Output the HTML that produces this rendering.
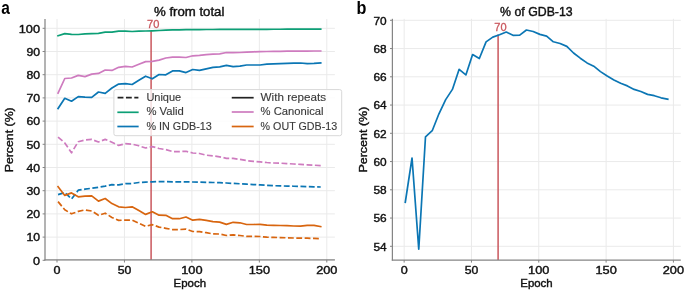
<!DOCTYPE html>
<html><head><meta charset="utf-8"><style>
html,body{margin:0;padding:0;background:#fff;}
body{width:685px;height:292px;overflow:hidden;}
svg{display:block;font-family:"Liberation Sans", sans-serif;will-change:transform;}
</style></head><body>
<svg width="685" height="292" viewBox="0 0 685 292">
<rect x="0" y="0" width="685" height="292" fill="#fff"/>
<line x1="57" y1="19" x2="57" y2="259.9" stroke="#eaeaea" stroke-width="1"/>
<line x1="124.45" y1="19" x2="124.45" y2="259.9" stroke="#eaeaea" stroke-width="1"/>
<line x1="191.9" y1="19" x2="191.9" y2="259.9" stroke="#eaeaea" stroke-width="1"/>
<line x1="259.35" y1="19" x2="259.35" y2="259.9" stroke="#eaeaea" stroke-width="1"/>
<line x1="326.8" y1="19" x2="326.8" y2="259.9" stroke="#eaeaea" stroke-width="1"/>
<line x1="45" y1="260.3" x2="334.9" y2="260.3" stroke="#eaeaea" stroke-width="1"/>
<line x1="45" y1="237.1" x2="334.9" y2="237.1" stroke="#eaeaea" stroke-width="1"/>
<line x1="45" y1="213.9" x2="334.9" y2="213.9" stroke="#eaeaea" stroke-width="1"/>
<line x1="45" y1="190.7" x2="334.9" y2="190.7" stroke="#eaeaea" stroke-width="1"/>
<line x1="45" y1="167.5" x2="334.9" y2="167.5" stroke="#eaeaea" stroke-width="1"/>
<line x1="45" y1="144.3" x2="334.9" y2="144.3" stroke="#eaeaea" stroke-width="1"/>
<line x1="45" y1="121.1" x2="334.9" y2="121.1" stroke="#eaeaea" stroke-width="1"/>
<line x1="45" y1="97.9" x2="334.9" y2="97.9" stroke="#eaeaea" stroke-width="1"/>
<line x1="45" y1="74.7" x2="334.9" y2="74.7" stroke="#eaeaea" stroke-width="1"/>
<line x1="45" y1="51.5" x2="334.9" y2="51.5" stroke="#eaeaea" stroke-width="1"/>
<line x1="45" y1="28.3" x2="334.9" y2="28.3" stroke="#eaeaea" stroke-width="1"/>
<line x1="151.1" y1="31" x2="151.1" y2="259.9" stroke="#c9575d" stroke-width="1.5"/>
<path d="M58.05 137.2 L64.78 142.9 L71.52 152.8 L78.25 141.7 L84.99 140 L91.72 139.4 L98.46 142 L105.19 139.4 L111.93 142.2 L118.66 145.4 L125.4 143.7 L132.13 144.1 L138.87 145.8 L145.61 148 L152.34 146.6 L159.07 148.5 L165.81 149.6 L172.55 151.6 L179.28 151.6 L186.01 151.3 L192.75 153 L199.49 153.5 L206.22 155.2 L212.95 155.9 L219.69 156.8 L226.43 158.4 L233.16 158.4 L239.89 159.4 L246.63 160.6 L253.37 161.4 L260.1 161.8 L266.83 162.5 L273.57 163 L280.31 163.2 L287.04 163.6 L293.78 164 L300.51 164.4 L307.25 164.8 L313.98 165.2 L320.72 165.6" fill="none" stroke="#ce7bbf" stroke-width="1.7" stroke-linejoin="round" stroke-linecap="butt" stroke-dasharray="5.83 2.52"/>
<path d="M58.05 194.6 L64.78 192.5 L71.52 199 L78.25 190.2 L84.99 189.2 L91.72 188.2 L98.46 187.3 L105.19 186.1 L111.93 184.7 L118.66 184.9 L125.4 183.7 L132.13 183.5 L138.87 182.5 L145.61 182.1 L152.34 181.8 L159.07 181.6 L165.81 181.7 L172.55 181.8 L179.28 181.8 L186.01 181.9 L192.75 182 L199.49 182.1 L206.22 182.3 L212.95 182.5 L219.69 182.6 L226.43 183 L233.16 183.39 L239.89 183.77 L246.63 184.16 L253.37 184.54 L260.1 184.93 L266.83 185.31 L273.57 185.7 L280.31 185.9 L287.04 186.08 L293.78 186.27 L300.51 186.45 L307.25 186.63 L313.98 186.82 L320.72 187" fill="none" stroke="#0b76b4" stroke-width="1.7" stroke-linejoin="round" stroke-linecap="butt" stroke-dasharray="5.83 2.52"/>
<path d="M58.05 201.6 L64.78 209.8 L71.52 213.8 L78.25 211.4 L84.99 209.9 L91.72 211 L98.46 215.3 L105.19 213.2 L111.93 217.5 L118.66 220.4 L125.4 220.1 L132.13 220.1 L138.87 223.2 L145.61 226.3 L152.34 224.7 L159.07 227.1 L165.81 228.3 L172.55 229.6 L179.28 229.6 L186.01 229.1 L192.75 231.5 L199.49 231.6 L206.22 232.7 L212.95 233.9 L219.69 234 L226.43 235.5 L233.16 234.8 L239.89 235.5 L246.63 236.4 L253.37 236.4 L260.1 236.5 L266.83 237.2 L273.57 237.4 L280.31 237.6 L287.04 237.8 L293.78 238 L300.51 238.1 L307.25 238.2 L313.98 238.4 L320.72 238.6" fill="none" stroke="#d8650f" stroke-width="1.7" stroke-linejoin="round" stroke-linecap="butt" stroke-dasharray="5.83 2.52"/>
<path d="M58.05 186.7 L64.78 195.4 L71.52 192.9 L78.25 196.8 L84.99 196.1 L91.72 195.9 L98.46 201.1 L105.19 198.5 L111.93 203.6 L118.66 206.8 L125.4 207.5 L132.13 206.8 L138.87 210.6 L145.61 214.4 L152.34 211.8 L159.07 215.2 L165.81 215.3 L172.55 218.7 L179.28 218.7 L186.01 217 L192.75 220.2 L199.49 219.4 L206.22 220.4 L212.95 221.6 L219.69 222.1 L226.43 224.4 L233.16 222.3 L239.89 222.8 L246.63 224.5 L253.37 224.5 L260.1 224.4 L266.83 225.2 L273.57 225.4 L280.31 225.5 L287.04 225.7 L293.78 226 L300.51 226.1 L307.25 225.4 L313.98 225.4 L320.72 226.6" fill="none" stroke="#d8650f" stroke-width="1.7" stroke-linejoin="round" stroke-linecap="square"/>
<path d="M58.05 108.5 L64.78 98.3 L71.52 101.2 L78.25 96.6 L84.99 97.2 L91.72 97.3 L98.46 92 L105.19 93.3 L111.93 88 L118.66 84.1 L125.4 83.6 L132.13 84.5 L138.87 80.2 L145.61 76.2 L152.34 78.8 L159.07 74.5 L165.81 74.8 L172.55 70.9 L179.28 70.9 L186.01 72.6 L192.75 69.5 L199.49 70.4 L206.22 68.8 L212.95 67.4 L219.69 66.9 L226.43 65.4 L233.16 66.7 L239.89 66.2 L246.63 65 L253.37 65 L260.1 65 L266.83 64.2 L273.57 63.9 L280.31 63.6 L287.04 63.4 L293.78 63.2 L300.51 63 L307.25 63.6 L313.98 63.4 L320.72 62.9" fill="none" stroke="#0b76b4" stroke-width="1.7" stroke-linejoin="round" stroke-linecap="square"/>
<path d="M58.05 93.1 L64.78 78.5 L71.52 78 L78.25 75.4 L84.99 76.6 L91.72 74.1 L98.46 73.4 L105.19 70 L111.93 70.4 L118.66 67.3 L125.4 66.4 L132.13 67 L138.87 64.2 L145.61 61.6 L152.34 61.3 L159.07 60.1 L165.81 58 L172.55 57.2 L179.28 57.2 L186.01 57.5 L192.75 55.8 L199.49 55.4 L206.22 54.6 L212.95 54.1 L219.69 53.9 L226.43 52.5 L233.16 52.7 L239.89 52.5 L246.63 52.2 L253.37 51.8 L260.1 51.6 L266.83 51.5 L273.57 51.3 L280.31 51.3 L287.04 51.2 L293.78 51.2 L300.51 51.1 L307.25 51.1 L313.98 51 L320.72 51" fill="none" stroke="#ce7bbf" stroke-width="1.7" stroke-linejoin="round" stroke-linecap="square"/>
<path d="M58.05 35.8 L64.78 33.6 L71.52 34.3 L78.25 34.5 L84.99 33.9 L91.72 33.6 L98.46 33.3 L105.19 32.2 L111.93 32.2 L118.66 31.2 L125.4 31.2 L132.13 31.5 L138.87 31.2 L145.61 31 L152.34 30.8 L159.07 30.5 L165.81 30.1 L172.55 29.9 L179.28 29.8 L186.01 29.7 L192.75 29.6 L199.49 29.6 L206.22 29.5 L212.95 29.48 L219.69 29.45 L226.43 29.43 L233.16 29.41 L239.89 29.38 L246.63 29.36 L253.37 29.34 L260.1 29.31 L266.83 29.29 L273.57 29.26 L280.31 29.24 L287.04 29.22 L293.78 29.19 L300.51 29.17 L307.25 29.15 L313.98 29.12 L320.72 29.1" fill="none" stroke="#0c9f76" stroke-width="1.7" stroke-linejoin="round" stroke-linecap="square"/>
<line x1="45" y1="19" x2="45" y2="260.5" stroke="#858585" stroke-width="1.25"/>
<line x1="44.4" y1="259.9" x2="334.9" y2="259.9" stroke="#858585" stroke-width="1.25"/>
<line x1="57" y1="259.9" x2="57" y2="262.5" stroke="#858585" stroke-width="1"/>
<line x1="124.45" y1="259.9" x2="124.45" y2="262.5" stroke="#858585" stroke-width="1"/>
<line x1="191.9" y1="259.9" x2="191.9" y2="262.5" stroke="#858585" stroke-width="1"/>
<line x1="259.35" y1="259.9" x2="259.35" y2="262.5" stroke="#858585" stroke-width="1"/>
<line x1="326.8" y1="259.9" x2="326.8" y2="262.5" stroke="#858585" stroke-width="1"/>
<line x1="42.6" y1="260.3" x2="45" y2="260.3" stroke="#858585" stroke-width="1"/>
<line x1="42.6" y1="237.1" x2="45" y2="237.1" stroke="#858585" stroke-width="1"/>
<line x1="42.6" y1="213.9" x2="45" y2="213.9" stroke="#858585" stroke-width="1"/>
<line x1="42.6" y1="190.7" x2="45" y2="190.7" stroke="#858585" stroke-width="1"/>
<line x1="42.6" y1="167.5" x2="45" y2="167.5" stroke="#858585" stroke-width="1"/>
<line x1="42.6" y1="144.3" x2="45" y2="144.3" stroke="#858585" stroke-width="1"/>
<line x1="42.6" y1="121.1" x2="45" y2="121.1" stroke="#858585" stroke-width="1"/>
<line x1="42.6" y1="97.9" x2="45" y2="97.9" stroke="#858585" stroke-width="1"/>
<line x1="42.6" y1="74.7" x2="45" y2="74.7" stroke="#858585" stroke-width="1"/>
<line x1="42.6" y1="51.5" x2="45" y2="51.5" stroke="#858585" stroke-width="1"/>
<line x1="42.6" y1="28.3" x2="45" y2="28.3" stroke="#858585" stroke-width="1"/>
<rect x="113.9" y="89.6" width="227.8" height="46.1" rx="2" ry="2" fill="#fff" fill-opacity="0.8" stroke="#d8d8d8" stroke-width="1"/>
<line x1="117.6" y1="97.7" x2="138.4" y2="97.7" stroke="#222" stroke-width="1.7" stroke-dasharray="5.83 2.52"/>
<line x1="118.2" y1="112.3" x2="137.8" y2="112.3" stroke="#0c9f76" stroke-width="1.7" stroke-linecap="square"/>
<line x1="118.2" y1="126.5" x2="137.8" y2="126.5" stroke="#0b76b4" stroke-width="1.7" stroke-linecap="square"/>
<line x1="232.6" y1="97.7" x2="252.8" y2="97.7" stroke="#222" stroke-width="1.7" stroke-linecap="square"/>
<line x1="232.6" y1="112.0" x2="252.8" y2="112.0" stroke="#ce7bbf" stroke-width="1.7" stroke-linecap="square"/>
<line x1="232.6" y1="126.5" x2="252.8" y2="126.5" stroke="#d8650f" stroke-width="1.7" stroke-linecap="square"/>
<text x="146.4" y="100.8" font-size="10.2" text-anchor="start" font-weight="normal" fill="#3a3a3a" textLength="34.8" lengthAdjust="spacingAndGlyphs" stroke="#3a3a3a" stroke-width="0.12">Unique</text>
<text x="146.4" y="115.3" font-size="10.2" text-anchor="start" font-weight="normal" fill="#3a3a3a" textLength="37.4" lengthAdjust="spacingAndGlyphs" stroke="#3a3a3a" stroke-width="0.12">% Valid</text>
<text x="146.4" y="129.9" font-size="10.2" text-anchor="start" font-weight="normal" fill="#3a3a3a" textLength="65.4" lengthAdjust="spacingAndGlyphs" stroke="#3a3a3a" stroke-width="0.12">% IN GDB-13</text>
<text x="260.6" y="100.8" font-size="10.2" text-anchor="start" font-weight="normal" fill="#3a3a3a" textLength="65.4" lengthAdjust="spacingAndGlyphs" stroke="#3a3a3a" stroke-width="0.12">With repeats</text>
<text x="260.6" y="115.3" font-size="10.2" text-anchor="start" font-weight="normal" fill="#3a3a3a" textLength="63" lengthAdjust="spacingAndGlyphs" stroke="#3a3a3a" stroke-width="0.12">% Canonical</text>
<text x="260.6" y="129.9" font-size="10.2" text-anchor="start" font-weight="normal" fill="#3a3a3a" textLength="76.5" lengthAdjust="spacingAndGlyphs" stroke="#3a3a3a" stroke-width="0.12">% OUT GDB-13</text>
<text x="40" y="264.6" font-size="11" text-anchor="end" font-weight="normal" fill="#111" textLength="7" lengthAdjust="spacingAndGlyphs" stroke="#111" stroke-width="0.4">0</text>
<text x="40" y="241.4" font-size="11" text-anchor="end" font-weight="normal" fill="#111" textLength="13.6" lengthAdjust="spacingAndGlyphs" stroke="#111" stroke-width="0.4">10</text>
<text x="40" y="218.2" font-size="11" text-anchor="end" font-weight="normal" fill="#111" textLength="13.6" lengthAdjust="spacingAndGlyphs" stroke="#111" stroke-width="0.4">20</text>
<text x="40" y="195" font-size="11" text-anchor="end" font-weight="normal" fill="#111" textLength="13.6" lengthAdjust="spacingAndGlyphs" stroke="#111" stroke-width="0.4">30</text>
<text x="40" y="171.8" font-size="11" text-anchor="end" font-weight="normal" fill="#111" textLength="13.6" lengthAdjust="spacingAndGlyphs" stroke="#111" stroke-width="0.4">40</text>
<text x="40" y="148.6" font-size="11" text-anchor="end" font-weight="normal" fill="#111" textLength="13.6" lengthAdjust="spacingAndGlyphs" stroke="#111" stroke-width="0.4">50</text>
<text x="40" y="125.4" font-size="11" text-anchor="end" font-weight="normal" fill="#111" textLength="13.6" lengthAdjust="spacingAndGlyphs" stroke="#111" stroke-width="0.4">60</text>
<text x="40" y="102.2" font-size="11" text-anchor="end" font-weight="normal" fill="#111" textLength="13.6" lengthAdjust="spacingAndGlyphs" stroke="#111" stroke-width="0.4">70</text>
<text x="40" y="79" font-size="11" text-anchor="end" font-weight="normal" fill="#111" textLength="13.6" lengthAdjust="spacingAndGlyphs" stroke="#111" stroke-width="0.4">80</text>
<text x="40" y="55.8" font-size="11" text-anchor="end" font-weight="normal" fill="#111" textLength="13.6" lengthAdjust="spacingAndGlyphs" stroke="#111" stroke-width="0.4">90</text>
<text x="40" y="32.6" font-size="11" text-anchor="end" font-weight="normal" fill="#111" textLength="21.3" lengthAdjust="spacingAndGlyphs" stroke="#111" stroke-width="0.4">100</text>
<text x="57" y="273.8" font-size="11" text-anchor="middle" font-weight="normal" fill="#111" textLength="7" lengthAdjust="spacingAndGlyphs" stroke="#111" stroke-width="0.4">0</text>
<text x="124.45" y="273.8" font-size="11" text-anchor="middle" font-weight="normal" fill="#111" textLength="13.6" lengthAdjust="spacingAndGlyphs" stroke="#111" stroke-width="0.4">50</text>
<text x="191.9" y="273.8" font-size="11" text-anchor="middle" font-weight="normal" fill="#111" textLength="21.3" lengthAdjust="spacingAndGlyphs" stroke="#111" stroke-width="0.4">100</text>
<text x="259.35" y="273.8" font-size="11" text-anchor="middle" font-weight="normal" fill="#111" textLength="21.3" lengthAdjust="spacingAndGlyphs" stroke="#111" stroke-width="0.4">150</text>
<text x="326.8" y="273.8" font-size="11" text-anchor="middle" font-weight="normal" fill="#111" textLength="21.3" lengthAdjust="spacingAndGlyphs" stroke="#111" stroke-width="0.4">200</text>
<text x="189.8" y="287.3" font-size="11" text-anchor="middle" font-weight="normal" fill="#111" textLength="32.4" lengthAdjust="spacingAndGlyphs" stroke="#111" stroke-width="0.4">Epoch</text>
<g transform="translate(13.2 139.8) rotate(-90)"><text x="0" y="0" font-size="11" text-anchor="middle" font-weight="normal" fill="#111" textLength="65" lengthAdjust="spacingAndGlyphs" stroke="#111" stroke-width="0.4">Percent (%)</text></g>
<text x="189.2" y="15.5" font-size="12" text-anchor="middle" font-weight="normal" fill="#111" textLength="70.4" lengthAdjust="spacingAndGlyphs" stroke="#111" stroke-width="0.4">% from total</text>
<text x="153.2" y="28.3" font-size="11.4" text-anchor="middle" font-weight="normal" fill="#c9575d" textLength="12.3" lengthAdjust="spacingAndGlyphs" stroke="#c9575d" stroke-width="0.3">70</text>
<text x="5.5" y="13.6" font-size="18" text-anchor="middle" font-weight="bold" fill="#000" textLength="8.6" lengthAdjust="spacingAndGlyphs">a</text>
<line x1="404.15" y1="18.8" x2="404.15" y2="260" stroke="#eaeaea" stroke-width="1"/>
<line x1="471.46" y1="18.8" x2="471.46" y2="260" stroke="#eaeaea" stroke-width="1"/>
<line x1="538.78" y1="18.8" x2="538.78" y2="260" stroke="#eaeaea" stroke-width="1"/>
<line x1="606.1" y1="18.8" x2="606.1" y2="260" stroke="#eaeaea" stroke-width="1"/>
<line x1="673.41" y1="18.8" x2="673.41" y2="260" stroke="#eaeaea" stroke-width="1"/>
<line x1="392.4" y1="246.3" x2="680.8" y2="246.3" stroke="#eaeaea" stroke-width="1"/>
<line x1="392.4" y1="218.05" x2="680.8" y2="218.05" stroke="#eaeaea" stroke-width="1"/>
<line x1="392.4" y1="189.8" x2="680.8" y2="189.8" stroke="#eaeaea" stroke-width="1"/>
<line x1="392.4" y1="161.55" x2="680.8" y2="161.55" stroke="#eaeaea" stroke-width="1"/>
<line x1="392.4" y1="133.3" x2="680.8" y2="133.3" stroke="#eaeaea" stroke-width="1"/>
<line x1="392.4" y1="105.05" x2="680.8" y2="105.05" stroke="#eaeaea" stroke-width="1"/>
<line x1="392.4" y1="76.8" x2="680.8" y2="76.8" stroke="#eaeaea" stroke-width="1"/>
<line x1="392.4" y1="48.55" x2="680.8" y2="48.55" stroke="#eaeaea" stroke-width="1"/>
<line x1="392.4" y1="20.3" x2="680.8" y2="20.3" stroke="#eaeaea" stroke-width="1"/>
<line x1="498.1" y1="34.5" x2="498.1" y2="260" stroke="#c9575d" stroke-width="1.5"/>
<path d="M405.3 202.2 L412.03 158 L418.76 249.2 L425.49 136.8 L432.22 130.7 L438.95 113.8 L445.68 99.6 L452.41 89.4 L459.14 69.3 L465.87 74.9 L472.6 54.5 L479.33 58.5 L486.06 41.9 L492.79 37.1 L499.52 34.8 L506.25 32 L512.98 35.3 L519.71 35.1 L526.44 30 L533.17 31.5 L539.9 34.4 L546.63 36.1 L553.36 41.8 L560.09 43.5 L566.82 46.4 L573.55 53 L580.28 58.2 L587.01 62.9 L593.74 66.2 L600.47 71.6 L607.2 76 L613.93 79.9 L620.66 83.3 L627.39 85.9 L634.12 89.4 L640.85 91.5 L647.58 94.4 L654.31 95.7 L661.04 97.8 L667.77 99.2" fill="none" stroke="#0b76b4" stroke-width="1.7" stroke-linejoin="round" stroke-linecap="square"/>
<line x1="392.4" y1="18.8" x2="392.4" y2="260.6" stroke="#858585" stroke-width="1.25"/>
<line x1="391.8" y1="260" x2="680.8" y2="260" stroke="#858585" stroke-width="1.25"/>
<line x1="404.15" y1="260" x2="404.15" y2="262.6" stroke="#858585" stroke-width="1"/>
<line x1="471.46" y1="260" x2="471.46" y2="262.6" stroke="#858585" stroke-width="1"/>
<line x1="538.78" y1="260" x2="538.78" y2="262.6" stroke="#858585" stroke-width="1"/>
<line x1="606.1" y1="260" x2="606.1" y2="262.6" stroke="#858585" stroke-width="1"/>
<line x1="673.41" y1="260" x2="673.41" y2="262.6" stroke="#858585" stroke-width="1"/>
<line x1="390" y1="246.3" x2="392.4" y2="246.3" stroke="#858585" stroke-width="1"/>
<line x1="390" y1="218.05" x2="392.4" y2="218.05" stroke="#858585" stroke-width="1"/>
<line x1="390" y1="189.8" x2="392.4" y2="189.8" stroke="#858585" stroke-width="1"/>
<line x1="390" y1="161.55" x2="392.4" y2="161.55" stroke="#858585" stroke-width="1"/>
<line x1="390" y1="133.3" x2="392.4" y2="133.3" stroke="#858585" stroke-width="1"/>
<line x1="390" y1="105.05" x2="392.4" y2="105.05" stroke="#858585" stroke-width="1"/>
<line x1="390" y1="76.8" x2="392.4" y2="76.8" stroke="#858585" stroke-width="1"/>
<line x1="390" y1="48.55" x2="392.4" y2="48.55" stroke="#858585" stroke-width="1"/>
<line x1="390" y1="20.3" x2="392.4" y2="20.3" stroke="#858585" stroke-width="1"/>
<text x="386.6" y="250.7" font-size="11" text-anchor="end" font-weight="normal" fill="#111" textLength="13.2" lengthAdjust="spacingAndGlyphs" stroke="#111" stroke-width="0.4">54</text>
<text x="386.6" y="222.45" font-size="11" text-anchor="end" font-weight="normal" fill="#111" textLength="13.2" lengthAdjust="spacingAndGlyphs" stroke="#111" stroke-width="0.4">56</text>
<text x="386.6" y="194.2" font-size="11" text-anchor="end" font-weight="normal" fill="#111" textLength="13.2" lengthAdjust="spacingAndGlyphs" stroke="#111" stroke-width="0.4">58</text>
<text x="386.6" y="165.95" font-size="11" text-anchor="end" font-weight="normal" fill="#111" textLength="13.2" lengthAdjust="spacingAndGlyphs" stroke="#111" stroke-width="0.4">60</text>
<text x="386.6" y="137.7" font-size="11" text-anchor="end" font-weight="normal" fill="#111" textLength="13.2" lengthAdjust="spacingAndGlyphs" stroke="#111" stroke-width="0.4">62</text>
<text x="386.6" y="109.45" font-size="11" text-anchor="end" font-weight="normal" fill="#111" textLength="13.2" lengthAdjust="spacingAndGlyphs" stroke="#111" stroke-width="0.4">64</text>
<text x="386.6" y="81.2" font-size="11" text-anchor="end" font-weight="normal" fill="#111" textLength="13.2" lengthAdjust="spacingAndGlyphs" stroke="#111" stroke-width="0.4">66</text>
<text x="386.6" y="52.95" font-size="11" text-anchor="end" font-weight="normal" fill="#111" textLength="13.2" lengthAdjust="spacingAndGlyphs" stroke="#111" stroke-width="0.4">68</text>
<text x="386.6" y="24.7" font-size="11" text-anchor="end" font-weight="normal" fill="#111" textLength="13.2" lengthAdjust="spacingAndGlyphs" stroke="#111" stroke-width="0.4">70</text>
<text x="404.15" y="274" font-size="11" text-anchor="middle" font-weight="normal" fill="#111" textLength="7" lengthAdjust="spacingAndGlyphs" stroke="#111" stroke-width="0.4">0</text>
<text x="471.46" y="274" font-size="11" text-anchor="middle" font-weight="normal" fill="#111" textLength="13.6" lengthAdjust="spacingAndGlyphs" stroke="#111" stroke-width="0.4">50</text>
<text x="538.78" y="274" font-size="11" text-anchor="middle" font-weight="normal" fill="#111" textLength="21.3" lengthAdjust="spacingAndGlyphs" stroke="#111" stroke-width="0.4">100</text>
<text x="606.1" y="274" font-size="11" text-anchor="middle" font-weight="normal" fill="#111" textLength="21.3" lengthAdjust="spacingAndGlyphs" stroke="#111" stroke-width="0.4">150</text>
<text x="673.41" y="274" font-size="11" text-anchor="middle" font-weight="normal" fill="#111" textLength="21.3" lengthAdjust="spacingAndGlyphs" stroke="#111" stroke-width="0.4">200</text>
<text x="536.5" y="287.3" font-size="11" text-anchor="middle" font-weight="normal" fill="#111" textLength="32.4" lengthAdjust="spacingAndGlyphs" stroke="#111" stroke-width="0.4">Epoch</text>
<g transform="translate(367.2 139.6) rotate(-90)"><text x="0" y="0" font-size="11" text-anchor="middle" font-weight="normal" fill="#111" textLength="66" lengthAdjust="spacingAndGlyphs" stroke="#111" stroke-width="0.4">Percent (%)</text></g>
<text x="536.4" y="15.5" font-size="12" text-anchor="middle" font-weight="normal" fill="#111" textLength="72.6" lengthAdjust="spacingAndGlyphs" stroke="#111" stroke-width="0.4">% of GDB-13</text>
<text x="500.5" y="31.2" font-size="11.4" text-anchor="middle" font-weight="normal" fill="#c9575d" textLength="12.3" lengthAdjust="spacingAndGlyphs" stroke="#c9575d" stroke-width="0.3">70</text>
<text x="361.55" y="13.7" font-size="18" text-anchor="middle" font-weight="bold" fill="#000" textLength="9.9" lengthAdjust="spacingAndGlyphs">b</text>
</svg>
</body></html>
